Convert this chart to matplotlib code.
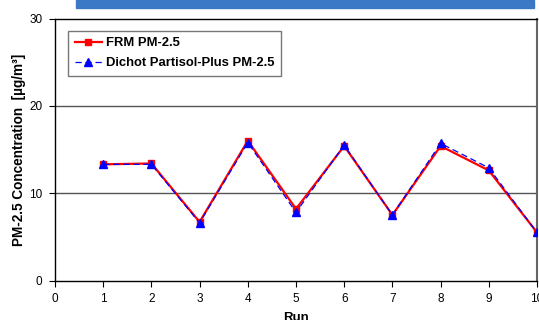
import matplotlib.pyplot as plt
from matplotlib.patches import Rectangle

runs = [1, 2, 3, 4, 5, 6, 7, 8, 9, 10]
frm = [13.3, 13.4, 6.7, 16.0, 8.2, 15.4, 7.5, 15.4, 12.6, 5.5]
dichot = [13.3, 13.3, 6.6, 15.8, 7.8, 15.5, 7.5, 15.7, 12.9, 5.5]
xticks = list(range(0, 11))
yticks = [0, 10, 20, 30]

plt.rcParams['font.family'] = ['Liberation Sans', 'DejaVu Sans']

fig = plt.figure(figsize=(5.39, 3.2), dpi=100)
ax = fig.add_axes([55 / 539, 1 - 280.5 / 320, 482 / 539, 262 / 320])

# blue banner at the top (cropped title bar)
fig.patches.append(Rectangle((76 / 539, 1 - 7.5 / 320), 458 / 539, 7.5 / 320,
                             transform=fig.transFigure, color='#3b78c6', zorder=0))

ax.set_xlim(0, 10)
ax.set_ylim(0, 30)
ax.set_xticks(xticks)
ax.set_yticks(yticks)
for y in [10, 20]:
    ax.axhline(y, color='#555555', lw=1.0, zorder=1)

ax.plot(runs, dichot, color='#0000ff', ls=(0, (5, 3)), lw=0.9, marker='^',
        ms=6, mfc='#0000ff', mec='#0000ff', label='Dichot Partisol-Plus PM-2.5', zorder=3)
ax.plot(runs, frm, color='#ff0000', lw=1.6, marker='s', ms=5,
        mfc='#ff0000', mec='#ff0000', label='FRM PM-2.5', zorder=2)

h, l = ax.get_legend_handles_labels()
leg = ax.legend(h[::-1], l[::-1], loc='upper left', bbox_to_anchor=(13 / 482, 1 - 12 / 262),
                borderaxespad=0, prop={'weight': 'bold', 'size': 9.4}, frameon=True,
                fancybox=False, edgecolor='#555555', handlelength=2.1, handletextpad=0.3,
                borderpad=0.5, labelspacing=0.6)
leg.get_frame().set_linewidth(1.0)

for s in ['left', 'bottom', 'top']:
    ax.spines[s].set_color('black')
    ax.spines[s].set_linewidth(1.0)
ax.spines['right'].set_color('#666666')
ax.spines['right'].set_linewidth(1.5)

ax.tick_params(axis='both', labelsize=8.5, length=4, width=0.8, direction='out', pad=5)
ax.set_ylabel('PM-2.5 Concentration  [µg/m³]', fontsize=9.8, fontweight='bold', labelpad=2)
ax.set_xlabel('Run', fontsize=9.5, fontweight='bold', labelpad=5)

fig.savefig('out.png', dpi=100)
